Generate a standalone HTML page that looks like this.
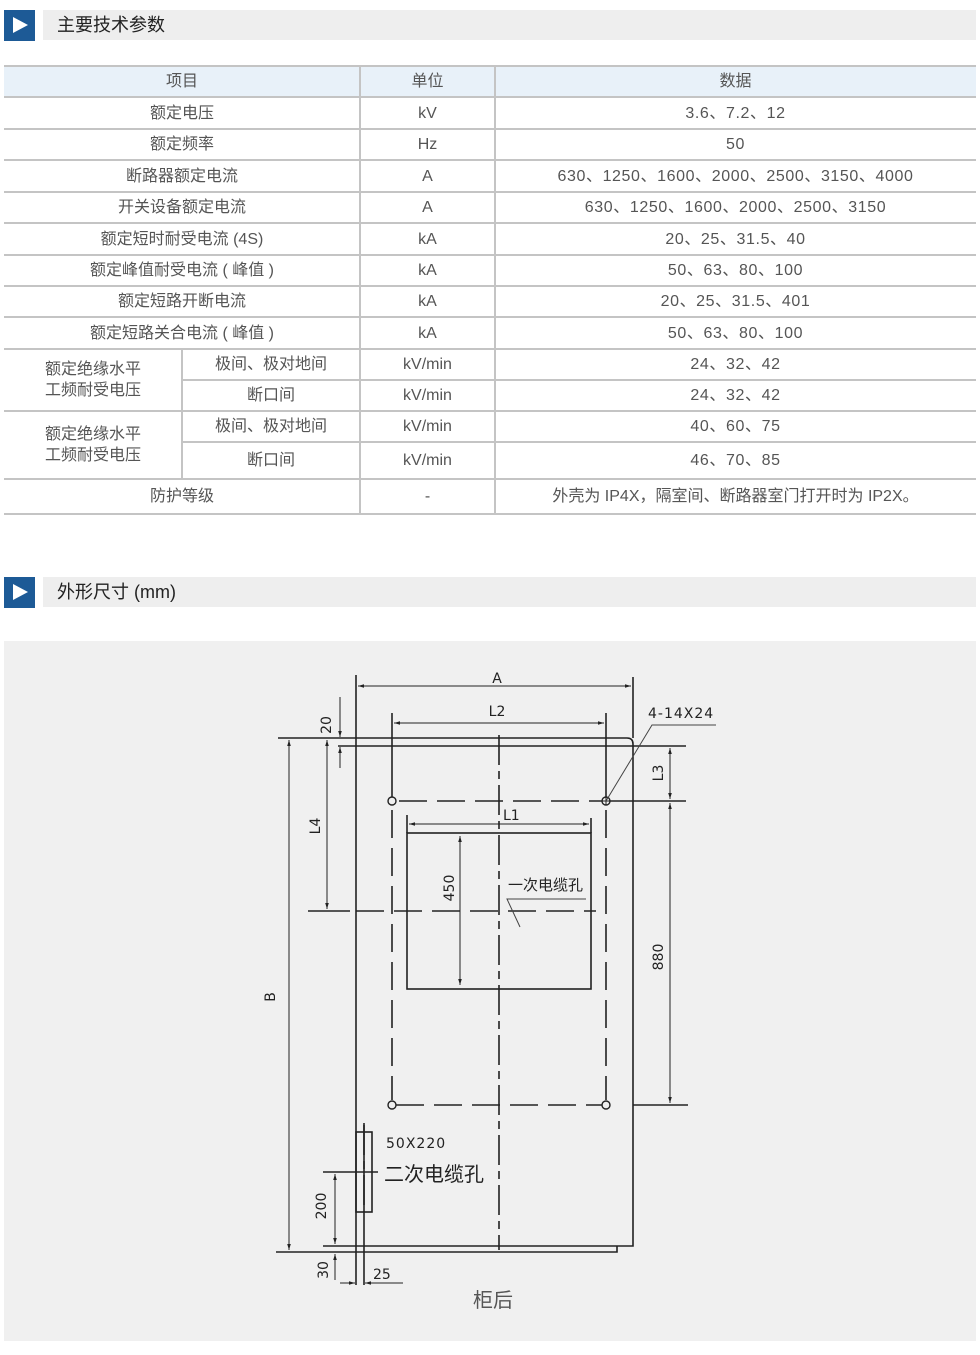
<!DOCTYPE html>
<html><head><meta charset="utf-8"><style>
body{margin:0;width:980px;height:1355px;background:#fff;position:relative;font-family:"Liberation Sans","Noto Sans CJK SC",sans-serif;color:#555;overflow:hidden}
.a{position:absolute}
.hd{position:absolute;left:43px;width:933px;height:30px;background:#eeeeee;font-size:18px;color:#222;line-height:30px;padding-left:14px;box-sizing:border-box}
.sq{position:absolute;left:4px;width:31px;height:31px;background:#1d5a96}
.sq:after{content:"";position:absolute;left:9px;top:7px;border-left:15px solid #fff;border-top:8.5px solid transparent;border-bottom:8.5px solid transparent}
.c{position:absolute;display:flex;align-items:center;justify-content:center;text-align:center;font-size:16px;box-sizing:border-box;line-height:21px}
.d{letter-spacing:0.6px}
.hl{position:absolute;left:4px;width:972px;height:2px;background:#c4c4c4}
.vl{position:absolute;width:2px;background:#c4c4c4}
</style></head><body>
<div class="sq" style="top:10px"></div><div class="hd" style="top:10px">主要技术参数</div>
<div class="a" style="left:4px;top:65px;width:972px;height:32px;background:#e8f1f9"></div>
<div class="hl" style="top:65px"></div>
<div class="hl" style="top:96px"></div><div class="hl" style="top:128px"></div><div class="hl" style="top:159px"></div><div class="hl" style="top:191px"></div><div class="hl" style="top:222px"></div><div class="hl" style="top:254px"></div><div class="hl" style="top:285px"></div><div class="hl" style="top:316px"></div><div class="hl" style="top:348px"></div>
<div class="hl" style="top:410px"></div><div class="hl" style="top:478px"></div><div class="hl" style="top:513px"></div>
<div class="a" style="left:182px;top:379px;width:794px;height:2px;background:#c4c4c4"></div>
<div class="a" style="left:182px;top:441px;width:794px;height:2px;background:#c4c4c4"></div>
<div class="vl" style="left:359px;top:65px;height:450px"></div>
<div class="vl" style="left:494px;top:65px;height:450px"></div>
<div class="vl" style="left:181px;top:348px;height:131px"></div>

<div class="c" style="left:4px;top:66px;width:356px;height:31px">项目</div>
<div class="c" style="left:360px;top:66px;width:135px;height:31px">单位</div>
<div class="c" style="left:495px;top:66px;width:481px;height:31px">数据</div>

<div class="c" style="left:4px;top:97px;width:356px;height:32px">额定电压</div><div class="c" style="left:360px;top:97px;width:135px;height:32px">kV</div><div class="c d" style="left:495px;top:97px;width:481px;height:32px">3.6、7.2、12</div>
<div class="c" style="left:4px;top:129px;width:356px;height:31px">额定频率</div><div class="c" style="left:360px;top:129px;width:135px;height:31px">Hz</div><div class="c d" style="left:495px;top:129px;width:481px;height:31px">50</div>
<div class="c" style="left:4px;top:160px;width:356px;height:32px">断路器额定电流</div><div class="c" style="left:360px;top:160px;width:135px;height:32px">A</div><div class="c d" style="left:495px;top:160px;width:481px;height:32px">630、1250、1600、2000、2500、3150、4000</div>
<div class="c" style="left:4px;top:192px;width:356px;height:31px">开关设备额定电流</div><div class="c" style="left:360px;top:192px;width:135px;height:31px">A</div><div class="c d" style="left:495px;top:192px;width:481px;height:31px">630、1250、1600、2000、2500、3150</div>
<div class="c" style="left:4px;top:223px;width:356px;height:32px">额定短时耐受电流 (4S)</div><div class="c" style="left:360px;top:223px;width:135px;height:32px">kA</div><div class="c d" style="left:495px;top:223px;width:481px;height:32px">20、25、31.5、40</div>
<div class="c" style="left:4px;top:255px;width:356px;height:31px">额定峰值耐受电流 ( 峰值 )</div><div class="c" style="left:360px;top:255px;width:135px;height:31px">kA</div><div class="c d" style="left:495px;top:255px;width:481px;height:31px">50、63、80、100</div>
<div class="c" style="left:4px;top:286px;width:356px;height:31px">额定短路开断电流</div><div class="c" style="left:360px;top:286px;width:135px;height:31px">kA</div><div class="c d" style="left:495px;top:286px;width:481px;height:31px">20、25、31.5、401</div>
<div class="c" style="left:4px;top:317px;width:356px;height:32px">额定短路关合电流 ( 峰值 )</div><div class="c" style="left:360px;top:317px;width:135px;height:32px">kA</div><div class="c d" style="left:495px;top:317px;width:481px;height:32px">50、63、80、100</div>

<div class="c" style="left:4px;top:349px;width:178px;height:62px;justify-content:flex-start;padding-left:41px;text-align:left">额定绝缘水平<br>工频耐受电压</div>
<div class="c" style="left:182px;top:349px;width:178px;height:31px">极间、极对地间</div><div class="c" style="left:360px;top:349px;width:135px;height:31px">kV/min</div><div class="c d" style="left:495px;top:349px;width:481px;height:31px">24、32、42</div>
<div class="c" style="left:182px;top:380px;width:178px;height:31px">断口间</div><div class="c" style="left:360px;top:380px;width:135px;height:31px">kV/min</div><div class="c d" style="left:495px;top:380px;width:481px;height:31px">24、32、42</div>
<div class="c" style="left:4px;top:411px;width:178px;height:68px;justify-content:flex-start;padding-left:41px;text-align:left">额定绝缘水平<br>工频耐受电压</div>
<div class="c" style="left:182px;top:411px;width:178px;height:31px">极间、极对地间</div><div class="c" style="left:360px;top:411px;width:135px;height:31px">kV/min</div><div class="c d" style="left:495px;top:411px;width:481px;height:31px">40、60、75</div>
<div class="c" style="left:182px;top:442px;width:178px;height:37px">断口间</div><div class="c" style="left:360px;top:442px;width:135px;height:37px">kV/min</div><div class="c d" style="left:495px;top:442px;width:481px;height:37px">46、70、85</div>
<div class="c" style="left:4px;top:479px;width:356px;height:35px">防护等级</div><div class="c" style="left:360px;top:479px;width:135px;height:35px">-</div><div class="c" style="left:495px;top:479px;width:481px;height:35px">外壳为 IP4X，隔室间、断路器室门打开时为 IP2X。</div>

<div class="sq" style="top:577px"></div><div class="hd" style="top:577px">外形尺寸 (mm)</div>
<div class="a" style="left:4px;top:641px;width:972px;height:700px;background:#f0f0f0"></div>

<svg class="a" style="left:0;top:0" width="980" height="1355">
<defs><marker id="ar" viewBox="0 0 10 10" refX="10" refY="5" markerWidth="8" markerHeight="6" orient="auto-start-reverse"><path d="M0,2 L10,5 L0,8z" fill="#222"/></marker></defs>
<g stroke="#222" stroke-width="1.6" fill="none">
<line x1="356" y1="675" x2="356" y2="1285"/>
<line x1="364" y1="1123" x2="364" y2="1285"/>
<path d="M278,738 H627 Q633,738 633,744 V1246 H323"/>
<path d="M276,1252 H617 V1246"/>
<line x1="338" y1="746" x2="686" y2="746"/>
<line x1="633" y1="677" x2="633" y2="738"/>
<line x1="392" y1="713" x2="392" y2="801"/>
<line x1="606" y1="713" x2="606" y2="801"/>
<line x1="606" y1="801" x2="686" y2="801"/>
<line x1="633" y1="1105" x2="688" y2="1105"/>
<rect x="407" y="833" width="184" height="156"/>
<line x1="407" y1="815" x2="407" y2="833"/><line x1="591" y1="818" x2="591" y2="833"/>
<line x1="308" y1="911" x2="350" y2="911"/>
<rect x="356" y="1132" width="16" height="80"/>
<line x1="323" y1="1172" x2="378" y2="1172"/>
</g>
<g stroke="#222" stroke-width="1.6" fill="none" stroke-dasharray="28,10">
<line x1="399" y1="801" x2="602" y2="801"/>
<line x1="396" y1="1105" x2="602" y2="1105"/>
<line x1="392" y1="810" x2="392" y2="1100"/>
<line x1="606" y1="810" x2="606" y2="1100"/>
<line x1="356" y1="911" x2="596" y2="911"/>
</g>
<g stroke="#222" stroke-width="1.6" fill="none" stroke-dasharray="30,6,8,6">
<line x1="499" y1="735" x2="499" y2="1250"/>
<line x1="364" y1="1125" x2="364" y2="1212"/>
</g>
<g fill="#f0f0f0" stroke="#222" stroke-width="1.4">
<circle cx="392" cy="801" r="4"/><circle cx="606" cy="801" r="4"/>
<circle cx="392" cy="1105" r="4"/><circle cx="606" cy="1105" r="4"/>
</g>
<line x1="602" y1="801" x2="610" y2="801" stroke="#222"/><line x1="606" y1="797" x2="606" y2="805" stroke="#222"/>
<g stroke="#222" stroke-width="1" fill="none" marker-start="url(#ar)" marker-end="url(#ar)">
<line x1="358" y1="686" x2="631" y2="686"/>
<line x1="394" y1="723" x2="604" y2="723"/>
<line x1="409" y1="824" x2="589" y2="824"/>
<line x1="670" y1="748" x2="670" y2="799"/>
<line x1="670" y1="803" x2="670" y2="1103"/>
<line x1="460" y1="836" x2="460" y2="985"/>
<line x1="327" y1="740" x2="327" y2="909"/>
<line x1="289" y1="740" x2="289" y2="1250"/>
<line x1="335" y1="1174" x2="335" y2="1244"/>
</g>
<g stroke="#222" stroke-width="1" fill="none" marker-end="url(#ar)">
<line x1="340" y1="697" x2="340" y2="737"/>
<line x1="340" y1="768" x2="340" y2="747"/>
<line x1="335" y1="1280" x2="335" y2="1254"/>
<line x1="340" y1="1283" x2="355" y2="1283"/>
<line x1="403" y1="1283" x2="365" y2="1283"/>
</g>
<g stroke="#444" stroke-width="1" fill="none">
<polyline points="606,801 652,725 716,725"/>
<polyline points="586,899 507,899 520,927"/>
</g>
<g fill="#222" font-family="DejaVu Sans, Liberation Sans, Noto Sans CJK SC, sans-serif" font-size="14">
<text x="497" y="683" text-anchor="middle">A</text>
<text x="497" y="716" text-anchor="middle">L2</text>
<text x="503" y="820">L1</text>
<text x="648" y="718" letter-spacing="1">4-14X24</text>
<text transform="translate(331,725) rotate(-90)" text-anchor="middle">20</text>
<text transform="translate(320,826) rotate(-90)" text-anchor="middle">L4</text>
<text transform="translate(663,773) rotate(-90)" text-anchor="middle">L3</text>
<text transform="translate(663,957) rotate(-90)" text-anchor="middle">880</text>
<text transform="translate(454,888) rotate(-90)" text-anchor="middle">450</text>
<text transform="translate(275,997) rotate(-90)" text-anchor="middle">B</text>
<text transform="translate(326,1206) rotate(-90)" text-anchor="middle">200</text>
<text transform="translate(328,1270) rotate(-90)" text-anchor="middle">30</text>
<text x="373" y="1279">25</text>
<text x="386" y="1148" letter-spacing="1">50X220</text>
<text x="508" y="890" font-size="15" font-family="Noto Sans CJK SC, sans-serif">一次电缆孔</text>
<text x="384" y="1181" font-size="20" font-family="Noto Sans CJK SC, sans-serif">二次电缆孔</text>
<text x="493" y="1307" font-size="20" fill="#555" text-anchor="middle" font-family="Noto Sans CJK SC, sans-serif">柜后</text>
</g>
</svg>
</body></html>
